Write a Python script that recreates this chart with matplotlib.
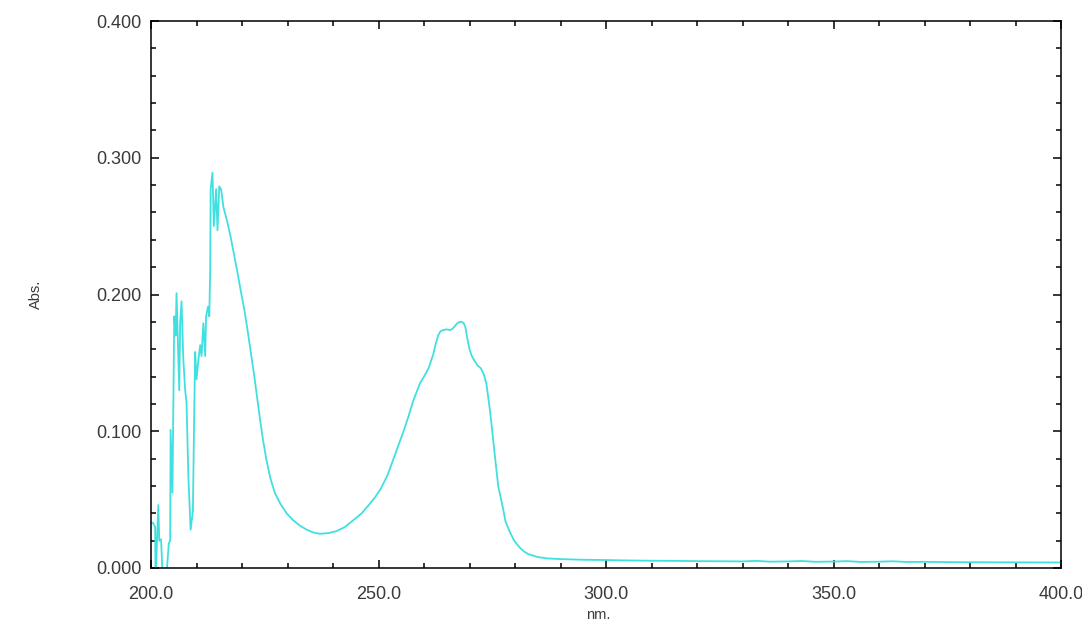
# UV-Vis absorption spectrum
import numpy as np
import matplotlib.pyplot as plt
from matplotlib.ticker import MultipleLocator, FormatStrFormatter

plt.rcParams['font.family'] = ['Liberation Sans', 'DejaVu Sans']

# wavelength (nm) and absorbance
wavelength = [
    200.0, 200.4, 200.9, 201.0, 201.3, 201.6, 201.8, 202.2, 202.6, 202.8,
    203.4, 203.9, 204.2, 204.3, 204.7, 205.1, 205.4, 205.6, 206.0, 206.2,
    206.4, 206.7, 207.1, 207.5, 207.8, 208.2, 208.7, 209.2, 209.5, 209.7,
    210.0, 210.4, 210.8, 211.1, 211.5, 211.9, 212.1, 212.5, 212.8, 213.0,
    213.1, 213.5, 213.8, 214.3, 214.6, 215.0, 215.4, 215.9, 216.7, 217.5,
    218.2, 219.0, 219.7, 220.5, 221.3, 222.0, 222.7, 223.3, 223.9, 224.5,
    225.3, 226.2, 227.2, 228.4, 229.8, 231.2, 232.7, 234.2, 235.6, 237.1,
    239.0, 240.8, 242.6, 244.5, 246.3, 248.1, 249.3, 250.5, 252.0, 253.3,
    254.4, 255.5, 256.6, 257.6, 258.4, 259.1, 260.0, 261.0, 262.0, 262.5,
    263.1, 263.6, 264.2, 265.0, 265.7, 266.3, 266.8, 267.3, 267.9, 268.3,
    268.7, 269.1, 269.5, 270.0, 270.5, 271.0, 271.8, 272.5, 273.2, 273.7,
    274.1, 274.5, 274.9, 275.6, 276.3, 277.4, 277.9, 278.9, 279.8, 281.0,
    282.0, 283.0, 285.0, 287.0, 290.0, 295.0,
    300.0, 305.0, 310.0, 315.0, 320.0, 325.0, 330.0, 333.0, 336.0, 340.0,
    343.0, 346.0, 350.0, 353.0, 356.0, 360.0, 363.0, 366.0, 370.0, 375.0,
    380.0, 390.0, 400.0,
]
absorbance = [
    0.033, 0.033, 0.030, -0.010, 0.020, 0.046, 0.020, 0.021, -0.010, -0.010,
    -0.005, 0.018, 0.020, 0.101, 0.055, 0.184, 0.170, 0.201, 0.152, 0.130,
    0.179, 0.195, 0.152, 0.130, 0.121, 0.067, 0.028, 0.042, 0.116, 0.158,
    0.138, 0.152, 0.163, 0.155, 0.179, 0.155, 0.184, 0.191, 0.184, 0.218,
    0.277, 0.289, 0.250, 0.277, 0.247, 0.279, 0.277, 0.264, 0.254, 0.242,
    0.230, 0.216, 0.203, 0.189, 0.172, 0.156, 0.140, 0.125, 0.110, 0.096,
    0.080, 0.066, 0.055, 0.047, 0.040, 0.035, 0.031, 0.028, 0.026, 0.025,
    0.0255, 0.027, 0.030, 0.035, 0.040, 0.047, 0.052, 0.058, 0.068, 0.080,
    0.090, 0.100, 0.111, 0.122, 0.129, 0.135, 0.140, 0.146, 0.156, 0.163,
    0.170, 0.173, 0.174, 0.1745, 0.174, 0.175, 0.177, 0.179, 0.180, 0.180,
    0.179, 0.176, 0.168, 0.160, 0.155, 0.152, 0.148, 0.146, 0.141, 0.135,
    0.125, 0.115, 0.103, 0.081, 0.060, 0.043, 0.034, 0.026, 0.020, 0.015,
    0.012, 0.010, 0.008, 0.007, 0.0065, 0.006,
    0.0058, 0.0055, 0.0053, 0.0052, 0.0050, 0.0049, 0.0048, 0.0052, 0.0046, 0.0048,
    0.0051, 0.0045, 0.0047, 0.0050, 0.0044, 0.0046, 0.0049, 0.0044, 0.0045, 0.0043,
    0.0042, 0.0041, 0.0040,
]

fig = plt.figure(figsize=(10.82, 6.26), dpi=100)
ax = fig.add_axes([0.1396, 0.0927, 0.841, 0.8737])

ax.plot(wavelength, absorbance, color='#40e0e0', linewidth=1.3)

ax.set_xlim(200, 400)
ax.set_ylim(0, 0.4)
ax.xaxis.set_major_locator(MultipleLocator(50))
ax.xaxis.set_minor_locator(MultipleLocator(10))
ax.yaxis.set_major_locator(MultipleLocator(0.1))
ax.yaxis.set_minor_locator(MultipleLocator(0.02))
ax.xaxis.set_major_formatter(FormatStrFormatter('%.1f'))
ax.yaxis.set_major_formatter(FormatStrFormatter('%.3f'))

ax.tick_params(which='both', direction='in', top=True, right=True,
               width=1.1, colors='black', labelcolor='#3a3a3a', labelsize=13)
ax.tick_params(which='major', length=6)
ax.tick_params(which='minor', length=3.5)
ax.tick_params(axis='x', pad=13)
ax.tick_params(axis='y', pad=7)
for s in ax.spines.values():
    s.set_linewidth(1.1)

fig.text(0.033, 0.53, 'Abs.', rotation=90, ha='center', va='center',
         fontsize=10.5, color='#3a3a3a')
fig.text(0.553, 0.018, 'nm.', ha='center', va='center',
         fontsize=10.5, color='#3a3a3a')

fig.savefig('out.png', dpi=100)
